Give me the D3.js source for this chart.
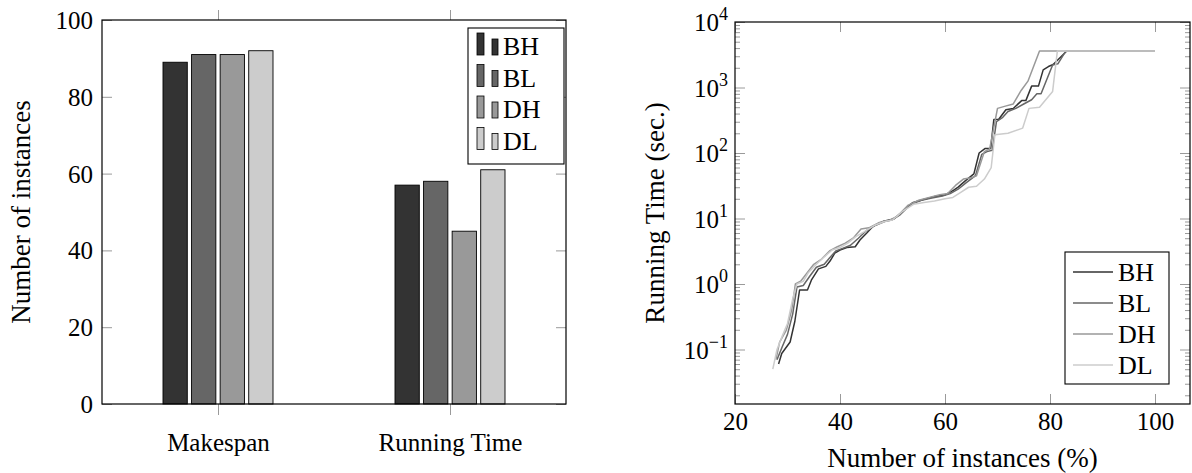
<!DOCTYPE html>
<html>
<head>
<meta charset="utf-8">
<script src="https://cdn.jsdelivr.net/npm/d3@7"></script>
<style>
  body { margin: 0; background: #fff; }
  svg { display: block; font-family: "Liberation Serif", "DejaVu Serif", serif; }
</style>
</head>
<body>
<svg></svg>
<script>
const size = {w: 1192, h: 473};
const svg = d3.select('svg')
    .attr('width', size.w)
    .attr('height', size.h);

// ---- data ----
const seriesNames = ['BH', 'BL', 'DH', 'DL'];
const categories = ['Makespan', 'Running Time'];
const makespanCounts = [89, 91, 91, 92];
const runningTimeCounts = [57, 58, 45, 61];
const countTicks = [0, 20, 40, 60, 80, 100];

const percentTicks = [20, 40, 60, 80, 100];
const timeTickExponents = [-1, 0, 1, 2, 3, 4];

// [% of instances, running time in sec.]
const bhCurve = [
    [28.3, 0.06], [28.9, 0.087], [30.5, 0.13], [31.4, 0.27], [32.3, 0.81], [33.8, 0.81],
    [34.6, 1.17], [35.9, 1.7], [37.3, 1.86], [38.1, 2.24], [39.0, 2.95], [40.0, 3.3],
    [41.3, 3.6], [42.9, 3.7], [43.8, 4.7], [45.1, 6.0], [46.3, 7.6], [48.3, 9.1],
    [50.2, 9.8], [51.7, 12.3], [53.8, 17.4], [55.9, 19.5], [57.8, 21.4], [60.0, 22.9],
    [61.6, 26.9], [62.5, 30.2], [63.8, 37.2], [65.5, 47.9], [66.5, 100], [67.6, 117],
    [68.7, 117], [69.3, 324], [70.2, 324], [71.6, 457], [73.0, 479], [74.6, 631],
    [75.4, 631], [76.5, 1050], [77.8, 1050], [78.7, 1860], [79.7, 2090], [80.6, 2240],
    [83.2, 3600], [100, 3600]
];
const blCurve = [
    [28.0, 0.07], [29.0, 0.11], [30.0, 0.17], [31.0, 0.35], [31.8, 0.9], [33.0, 0.95],
    [34.2, 1.3], [35.5, 1.8], [37.0, 2.0], [38.0, 2.5], [39.2, 3.2], [40.5, 3.5],
    [42.0, 3.9], [43.5, 5.0], [45.0, 6.5], [46.8, 7.9], [48.5, 9.0], [50.0, 9.6],
    [51.5, 11.5], [53.5, 16.5], [55.5, 19.0], [57.5, 20.5], [59.5, 22.0], [61.0, 24.0],
    [62.5, 28.0], [64.0, 35.0], [65.8, 45.0], [67.0, 95], [68.0, 105], [69.0, 110],
    [69.8, 300], [71.0, 350], [72.0, 430], [73.5, 480], [75.0, 560], [76.5, 650],
    [77.5, 800], [78.3, 800], [79.5, 1400], [80.5, 2200], [81.5, 2300], [83.0, 3600],
    [100, 3600]
];
const dhCurve = [
    [27.8, 0.07], [28.5, 0.13], [29.8, 0.2], [30.8, 0.4], [31.5, 1.0], [32.5, 1.1],
    [33.5, 1.4], [35.0, 2.0], [36.5, 2.4], [38.0, 3.2], [39.5, 3.7], [41.0, 4.2],
    [42.5, 5.0], [44.0, 6.9], [45.5, 7.2], [47.5, 8.7], [49.5, 9.4], [51.0, 11.0],
    [53.0, 16.0], [55.0, 19.0], [57.0, 21.0], [59.0, 23.0], [60.5, 24.0], [62.0, 32.0],
    [63.5, 40.0], [65.0, 42.0], [66.0, 45.0], [67.5, 105], [68.5, 115], [70.0, 480],
    [71.5, 520], [73.0, 560], [74.5, 900], [75.8, 1250], [78.0, 3600], [100, 3600]
];
const dlCurve = [
    [27.2, 0.05], [28.0, 0.1], [29.0, 0.16], [30.0, 0.25], [31.0, 0.6], [31.8, 1.0],
    [33.0, 1.1], [34.0, 1.5], [35.5, 2.0], [37.0, 2.6], [38.5, 3.3], [40.0, 3.6],
    [41.5, 4.2], [43.0, 5.3], [44.5, 6.2], [46.5, 7.8], [48.5, 9.0], [50.0, 9.5],
    [52.0, 13.0], [54.0, 16.5], [56.0, 17.5], [58.0, 18.5], [60.0, 20.0], [61.5, 21.0],
    [63.0, 25.0], [64.5, 30.0], [66.0, 31.0], [67.5, 40.0], [68.8, 60.0], [69.5, 190],
    [72.0, 200], [74.8, 240], [76.0, 480], [78.0, 500], [80.5, 870], [81.4, 3600],
    [100, 3600]
];

const grays = ['#333333', '#666666', '#999999', '#cccccc'];
const tickColor = '#9a9a9a';
const fontFamily = '"Liberation Serif", "DejaVu Serif", serif';

drawBarChart();
drawTimeChart();

function drawBarChart () {
    const box = {l: 102, r: 566, t: 20, b: 404};
    const g = svg.append('g').classed('bars', true);

    const x = d3.scalePoint()
        .domain(categories)
        .range([box.l, box.r])
        .padding(0.5);
    const inner = d3.scaleBand()
        .domain(seriesNames)
        .range([-55, 55])
        .paddingInner(0.15);
    const y = d3.scaleLinear()
        .domain([0, 100])
        .range([box.b, box.t]);

    const rows = [makespanCounts, runningTimeCounts];
    const bars = [];
    categories.forEach((c, i) => {
        seriesNames.forEach((s, j) => bars.push({cat: c, series: s, value: rows[i][j], k: j}));
    });

    g.selectAll('rect.bar')
        .data(bars)
        .enter()
        .append('rect')
        .classed('bar', true)
        .attr('x', d => x(d.cat) + inner(d.series))
        .attr('width', inner.bandwidth())
        .attr('y', d => y(d.value))
        .attr('height', d => y(0) - y(d.value))
        .attr('fill', d => grays[d.k])
        .attr('stroke', '#000')
        .attr('stroke-width', 0.9);

    // y axes (inward ticks left and right)
    const left = g.append('g')
        .attr('transform', 'translate(' + box.l + ',0)')
        .call(d3.axisLeft(y).tickValues(countTicks).tickSize(-10));
    const right = g.append('g')
        .attr('transform', 'translate(' + box.r + ',0)')
        .call(d3.axisRight(y).tickValues(countTicks).tickSize(-10).tickFormat(''));
    // x axes (outward ticks at top and bottom)
    const bottom = g.append('g')
        .attr('transform', 'translate(0,' + box.b + ')')
        .call(d3.axisBottom(x).tickSize(11));
    const top = g.append('g')
        .attr('transform', 'translate(0,' + box.t + ')')
        .call(d3.axisTop(x).tickSize(10).tickFormat(''));

    [left, right, bottom, top].forEach(a => styleAxis(a));
    left.selectAll('text').attr('x', -9).attr('dy', '0.34em');
    bottom.selectAll('text').attr('y', 47).attr('dy', 0);

    g.append('rect')
        .attr('x', box.l).attr('y', box.t)
        .attr('width', box.r - box.l).attr('height', box.b - box.t)
        .attr('fill', 'none').attr('stroke', '#000').attr('stroke-width', 1.2);

    g.append('text')
        .attr('transform', 'translate(30,' + (box.t + box.b) / 2 + ') rotate(-90)')
        .attr('text-anchor', 'middle')
        .style('font-size', '27px')
        .text('Number of instances');

    // legend
    const lg = g.append('g').attr('transform', 'translate(468,28)');
    lg.append('rect')
        .attr('width', 96).attr('height', 136)
        .attr('fill', '#fff').attr('stroke', '#000').attr('stroke-width', 1.1);
    const item = lg.selectAll('g.item')
        .data(seriesNames)
        .enter()
        .append('g')
        .attr('transform', (d, i) => 'translate(0,' + (27 + i * 31.5) + ')');
    item.append('rect')
        .attr('x', 9).attr('y', -22).attr('width', 7).attr('height', 22)
        .attr('fill', (d, i) => grays[i]).attr('stroke', '#000').attr('stroke-width', 0.8);
    item.append('rect')
        .attr('x', 24).attr('y', -16).attr('width', 6).attr('height', 16)
        .attr('fill', (d, i) => grays[i]).attr('stroke', '#000').attr('stroke-width', 0.8);
    item.append('text')
        .attr('x', 35).attr('y', 0)
        .style('font-size', '26px')
        .text(d => d);
}

function drawTimeChart () {
    const box = {l: 735, r: 1190, t: 22, b: 404};
    const g = svg.append('g').classed('lines', true);

    const x = d3.scaleLinear()
        .domain([20, 20 + (box.r - box.l) / 105 * 20])
        .range([box.l, box.r]);
    const y = d3.scaleLog()
        .domain([Math.pow(10, 4 - (box.b - box.t) / 65.5), 1e4])
        .range([box.b, box.t]);

    const line = d3.line()
        .x(d => x(d[0]))
        .y(d => y(d[1]));

    const curves = [bhCurve, blCurve, dhCurve, dlCurve];
    g.selectAll('path.curve')
        .data(curves)
        .enter()
        .append('path')
        .classed('curve', true)
        .attr('d', d => line(d))
        .attr('fill', 'none')
        .attr('stroke', (d, i) => grays[i])
        .attr('stroke-width', 1.5)
        .attr('stroke-linejoin', 'round');

    const majors = timeTickExponents.map(e => Math.pow(10, e));
    const minors = y.ticks().filter(v => Math.abs(Math.log10(v) - Math.round(Math.log10(v))) > 1e-6);

    const left = g.append('g')
        .attr('transform', 'translate(' + box.l + ',0)')
        .call(d3.axisLeft(y).tickValues(majors).tickSize(-10).tickFormat(''));
    const leftMinor = g.append('g')
        .attr('transform', 'translate(' + box.l + ',0)')
        .call(d3.axisLeft(y).tickValues(minors).tickSize(-5).tickFormat(''));
    const right = g.append('g')
        .attr('transform', 'translate(' + box.r + ',0)')
        .call(d3.axisRight(y).tickValues(majors).tickSize(-10).tickFormat(''));
    const rightMinor = g.append('g')
        .attr('transform', 'translate(' + box.r + ',0)')
        .call(d3.axisRight(y).tickValues(minors).tickSize(-5).tickFormat(''));
    const bottom = g.append('g')
        .attr('transform', 'translate(0,' + box.b + ')')
        .call(d3.axisBottom(x).tickValues(percentTicks).tickSize(-10));
    const top = g.append('g')
        .attr('transform', 'translate(0,' + box.t + ')')
        .call(d3.axisTop(x).tickValues(percentTicks).tickSize(-10).tickFormat(''));

    [left, leftMinor, right, rightMinor, bottom, top].forEach(a => styleAxis(a));
    bottom.selectAll('text').attr('y', 26).attr('dy', 0);

    // log tick labels 10^e
    const labels = g.append('g').selectAll('text.ylab')
        .data(timeTickExponents)
        .enter()
        .append('text')
        .classed('ylab', true)
        .attr('x', box.l - 7)
        .attr('y', e => y(Math.pow(10, e)) + 9)
        .attr('text-anchor', 'end')
        .style('font-size', '25px');
    labels.append('tspan').text('10');
    labels.append('tspan')
        .attr('dy', -11)
        .style('font-size', '18px')
        .text(e => e < 0 ? '\u2212' + Math.abs(e) : e);

    g.append('rect')
        .attr('x', box.l).attr('y', box.t)
        .attr('width', box.r - box.l).attr('height', box.b - box.t)
        .attr('fill', 'none').attr('stroke', '#000').attr('stroke-width', 1.2);

    g.append('text')
        .attr('x', (box.l + box.r) / 2).attr('y', 467)
        .attr('text-anchor', 'middle')
        .style('font-size', '27px')
        .text('Number of instances (%)');
    g.append('text')
        .attr('transform', 'translate(664,' + (box.t + box.b) / 2 + ') rotate(-90)')
        .attr('text-anchor', 'middle')
        .style('font-size', '27px')
        .text('Running Time (sec.)');

    // legend
    const lg = g.append('g').attr('transform', 'translate(1065,252)');
    lg.append('rect')
        .attr('width', 104).attr('height', 132)
        .attr('fill', '#fff').attr('stroke', '#000').attr('stroke-width', 1.1);
    const item = lg.selectAll('g.item')
        .data(seriesNames)
        .enter()
        .append('g')
        .attr('transform', (d, i) => 'translate(0,' + (20 + i * 31) + ')');
    item.append('line')
        .attr('x1', 8).attr('x2', 48)
        .attr('stroke', (d, i) => grays[i])
        .attr('stroke-width', 1.5);
    item.append('text')
        .attr('x', 53).attr('y', 9)
        .style('font-size', '26px')
        .text(d => d);
}

function styleAxis (a) {
    a.select('.domain').remove();
    a.selectAll('.tick line').attr('stroke', tickColor).attr('stroke-width', 1);
    a.selectAll('.tick text')
        .attr('fill', '#000')
        .style('font-family', fontFamily)
        .style('font-size', '25px');
}
</script>
</body>
</html>
